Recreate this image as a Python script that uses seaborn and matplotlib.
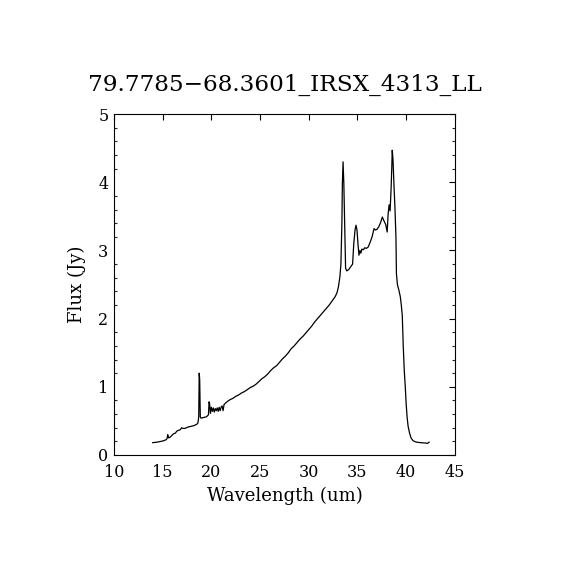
import matplotlib
matplotlib.use("Agg")
import matplotlib.pyplot as plt
from matplotlib.ticker import MultipleLocator
import numpy as np
import pandas as pd
import seaborn as sns

title = "79.7785\u221268.3601_IRSX_4313_LL"
x_label = "Wavelength (um)"
y_label = "Flux (Jy)"

wavelength = [
    13.95, 14.5, 15.0, 15.3, 15.45, 15.52, 15.62, 15.75, 15.9, 16.1, 16.3,
    16.45, 16.6, 16.8, 16.95, 17.05, 17.3, 17.6, 17.9, 18.2, 18.5, 18.62,
    18.7, 18.75, 18.8, 18.86, 18.93, 19.2, 19.5, 19.7, 19.76, 19.82, 19.9,
    20.0, 20.1, 20.2, 20.3, 20.4, 20.5, 20.6, 20.7, 20.8, 20.9, 21.0, 21.1,
    21.2, 21.3, 21.45, 21.6, 21.9, 22.2, 22.5, 22.8, 23.1, 23.4, 23.7, 24.0,
    24.3, 24.6, 24.9, 25.2, 25.5, 25.8, 26.1, 26.4, 26.7, 27.0, 27.3, 27.6,
    27.9, 28.2, 28.5, 28.8, 29.1, 29.4, 29.7, 30.0, 30.3, 30.6, 30.9, 31.2,
    31.5, 31.8, 32.1, 32.4, 32.7, 32.9, 33.05, 33.2, 33.3, 33.4, 33.45,
    33.52, 33.6, 33.68, 33.78, 33.9, 34.1, 34.3, 34.5, 34.62, 34.75, 34.85,
    34.95, 35.05, 35.15, 35.25, 35.35, 35.45, 35.6, 35.75, 35.9, 36.1, 36.3,
    36.5, 36.7, 36.85, 37.0, 37.2, 37.4, 37.55, 37.7, 37.9, 38.05, 38.15,
    38.25, 38.35, 38.45, 38.52, 38.57, 38.65, 38.75, 38.85, 38.95, 39.0,
    39.1, 39.25, 39.4, 39.5, 39.6, 39.7, 39.8, 39.9, 40.0, 40.1, 40.2,
    40.35, 40.5, 40.7, 41.0, 41.5, 42.0, 42.2, 42.37,
]

flux = [
    0.18, 0.19, 0.205, 0.22, 0.24, 0.30, 0.25, 0.26, 0.28, 0.31, 0.32,
    0.35, 0.36, 0.37, 0.40, 0.39, 0.39, 0.41, 0.42, 0.43, 0.45, 0.47,
    0.56, 1.20, 1.10, 0.56, 0.54, 0.55, 0.56, 0.59, 0.78, 0.75, 0.61,
    0.70, 0.64, 0.69, 0.63, 0.68, 0.65, 0.69, 0.64, 0.70, 0.65, 0.70, 0.72,
    0.65, 0.74, 0.76, 0.78, 0.81, 0.83, 0.86, 0.88, 0.91, 0.93, 0.96, 0.99,
    1.01, 1.04, 1.08, 1.12, 1.15, 1.19, 1.24, 1.28, 1.31, 1.36, 1.41, 1.45,
    1.50, 1.56, 1.60, 1.65, 1.70, 1.74, 1.79, 1.84, 1.89, 1.95, 2.00, 2.05,
    2.10, 2.15, 2.20, 2.26, 2.32, 2.38, 2.47, 2.62, 2.80, 3.40, 3.98,
    4.30, 3.98, 3.40, 2.74, 2.70, 2.72, 2.76, 2.80, 3.10, 3.30, 3.37,
    3.30, 3.10, 2.93, 3.00, 2.96, 3.02, 3.01, 3.04, 3.03, 3.05, 3.12,
    3.20, 3.32, 3.30, 3.31, 3.35, 3.42, 3.49, 3.44, 3.38, 3.27, 3.54,
    3.67, 3.58, 3.90, 4.20, 4.47, 4.33, 3.95, 3.62, 3.20, 2.66,
    2.50, 2.42, 2.32, 2.20, 2.05, 1.60, 1.25, 1.02, 0.75, 0.55, 0.42,
    0.32, 0.25, 0.21, 0.19, 0.18, 0.175, 0.17, 0.19,
]

x_ticks = [10, 15, 20, 25, 30, 35, 40, 45]
y_ticks = [0, 1, 2, 3, 4, 5]

df = pd.DataFrame({"wavelength": wavelength, "flux": flux})

sns.set_theme(style="white")
plt.rcParams["font.family"] = ["DejaVu Serif"]
plt.rcParams["mathtext.fontset"] = "dejavuserif"

fig = plt.figure(figsize=(5.7, 5.7), dpi=100)
fig.patch.set_facecolor("white")
ax = fig.add_axes([0.2, 0.2018, 0.598, 0.598])
ax.set_facecolor("white")

sns.lineplot(data=df, x="wavelength", y="flux", ax=ax, color="black",
             linewidth=0.9, sort=False, estimator=None)

ax.set_xlim(10, 45)
ax.set_ylim(0, 5)
ax.set_xticks(x_ticks)
ax.set_yticks(y_ticks)
ax.set_xticklabels([str(t) for t in x_ticks])
ax.set_yticklabels([str(t) for t in y_ticks])
ax.yaxis.set_minor_locator(MultipleLocator(0.2))

for s in ax.spines.values():
    s.set_visible(True)
    s.set_color("black")
    s.set_linewidth(0.8)

ax.tick_params(axis="both", which="major", direction="in", length=4,
               width=0.8, colors="black", top=True, right=True,
               labelsize=11.5)
ax.tick_params(axis="x", which="major", pad=6.5)
ax.tick_params(axis="y", which="major", pad=4)
ax.tick_params(axis="y", which="minor", direction="in", length=2,
               width=0.8, left=True, right=True)

ax.set_xlabel(x_label, fontsize=13, color="black", labelpad=4)
ax.set_ylabel(y_label, fontsize=13, color="black", labelpad=9)
ax.set_title(title, fontsize=16.7, color="black", pad=17)

fig.savefig("out.png", dpi=100, facecolor="white")
